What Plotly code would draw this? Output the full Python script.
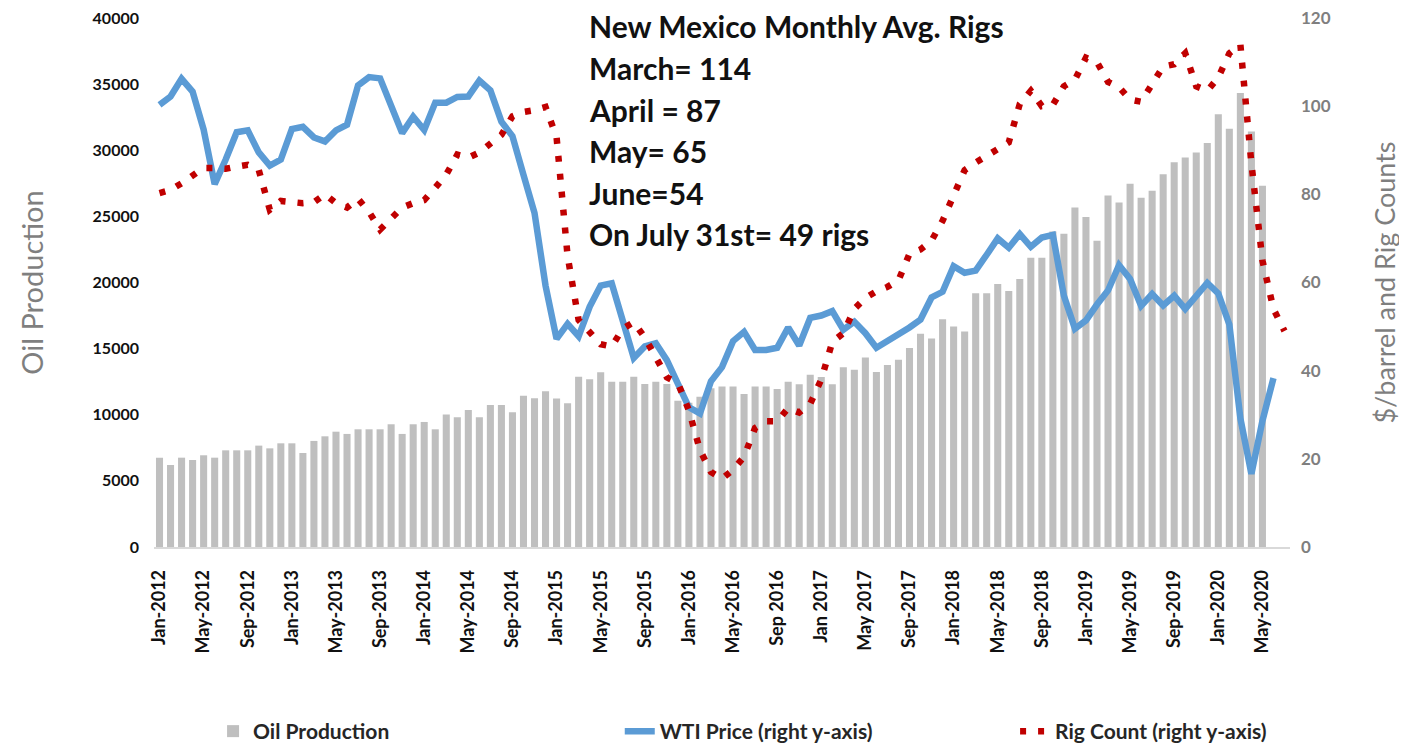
import plotly.graph_objects as go

# months Jan-2012 .. Jul-2020
years = range(2012, 2021)
months = [f"{y}-{m:02d}" for y in years for m in range(1, 13)][:103]

tick_labels = ["Jan-2012", "May-2012", "Sep-2012", "Jan-2013", "May-2013", "Sep-2013",
               "Jan-2014", "May-2014", "Sep-2014", "Jan-2015", "May-2015", "Sep-2015",
               "Jan-2016", "May-2016", "Sep 2016", "Jan 2017", "May 2017", "Sep-2017",
               "Jan-2018", "May-2018", "Sep-2018", "Jan-2019", "May-2019", "Sep-2019",
               "Jan-2020", "May-2020"]

# NM oil production (thousand bbl), Jan-2012 .. May-2020
oil_production = [
    6755, 6200, 6755, 6580, 6935, 6755, 7310, 7310, 7310, 7665, 7460, 7840,
    7840, 7110, 8020, 8370, 8720, 8550, 8900, 8900, 8900, 9280, 8550, 9280,
    9455, 8900, 10010, 9810, 10360, 9810, 10740, 10740, 10190, 11430, 11250, 11780,
    11220, 10870, 12870, 12680, 13220, 12500, 12500, 12870, 12320, 12500, 12320, 11050,
    10900, 11370, 12000, 12130, 12130, 11570, 12130, 12130, 11950, 12500, 12310, 13030,
    12860, 12310, 13590, 13410, 14320, 13240, 13770, 14150, 15040, 16120, 15760, 17220,
    16665, 16290, 19190, 19190, 19890, 19360, 20270, 21880, 21880, 23850, 23680, 25670,
    24960, 23150, 26580, 26050, 27460, 26400, 26930, 28190, 29100, 29450, 29830, 30540,
    32730, 31620, 34320, 31420, 27310,
]

# WTI monthly average price ($/bbl), Jan-2012 .. Jun-2020
wti_price = [
    100.3, 102.2, 106.2, 103.3, 94.7, 82.3, 87.9, 94.1, 94.5, 89.5, 86.5, 87.9,
    94.8, 95.3, 92.9, 92.0, 94.5, 95.8, 104.7, 106.6, 106.3, 100.5, 93.9, 97.6,
    94.6, 100.8, 100.8, 102.1, 102.2, 105.8, 103.6, 96.5, 93.2, 84.4, 75.8, 59.3,
    47.2, 50.6, 47.8, 54.5, 59.3, 59.8, 50.9, 42.9, 45.5, 46.2, 42.4, 37.2,
    31.7, 30.3, 37.6, 40.8, 46.7, 48.8, 44.7, 44.7, 45.2, 49.8, 45.7, 52.0,
    52.5, 53.5, 49.3, 51.1, 48.5, 45.2, 46.6, 48.0, 49.8, 51.6, 56.6, 57.9,
    63.7, 62.2, 62.7, 66.3, 70.0, 67.9, 71.0, 68.1, 70.2, 70.8, 57.0, 49.5,
    51.4, 55.0, 58.2, 63.9, 60.8, 54.7, 57.4, 54.8, 57.0, 54.0, 57.0, 59.9,
    57.5, 50.5, 29.2, 16.6, 28.6, 38.3,
]

# NM monthly avg rig count, Jan-2012 .. Jul-2020
rig_count = [
    80.3, 81, 82.5, 84.3, 86, 86, 85.8, 86.3, 86.7, 85.5, 76.5, 78.5,
    78.3, 78, 78.2, 80, 78, 77, 79, 76, 72, 74.5, 77, 78,
    78.7, 81.5, 84.5, 89, 88.3, 89.5, 91.5, 93.5, 97.7, 98.7, 99.1, 99.8,
    93, 66, 51.5, 48.5, 46, 45.5, 49.5, 51, 47.5, 43, 38.5, 37.2,
    31, 22, 17, 15.5, 17.5, 20.5, 27, 28.5, 28.5, 31.5, 30.5, 32.5,
    38, 46.5, 48.5, 54, 56.5, 58, 59, 60.5, 66.5, 67.5, 69.5, 74,
    80, 85.5, 87.2, 88.7, 90.3, 91.8, 100.5, 103.5, 100, 100.3, 104.5, 106,
    111, 110, 105.5, 104.3, 101.5, 101, 105, 109, 109.5, 112, 104.5, 103.5,
    106.5, 112, 114, 87, 65, 54, 49,
]

note_lines = ["New Mexico Monthly Avg. Rigs", "March= 114", "April = 87",
              "May= 65", "June=54", "On July 31st= 49 rigs"]

FONT = "Lato"
legend_font = dict(family=FONT, size=21, color="#262626", weight="bold")

fig = go.Figure()
fig.add_trace(go.Bar(x=months[:len(oil_production)], y=oil_production, name="Oil Production",
                     marker=dict(color="#bfbfbf", line=dict(width=0)), legend="legend"))
fig.add_trace(go.Scatter(x=months[:len(wti_price)], y=wti_price, name="WTI Price (right y-axis)",
                         mode="lines", yaxis="y2", legend="legend2",
                         line=dict(color="#5b9bd5", width=6.5)))
fig.add_trace(go.Scatter(x=months, y=rig_count, name="Rig Count (right y-axis)",
                         mode="lines", yaxis="y2", legend="legend3",
                         line=dict(color="#c00000", width=6.5, dash="6px,12px")))

# text box
for i, line in enumerate(note_lines):
    fig.add_annotation(text=line, xref="paper", yref="paper", x=0.381, y=0.984 - i * 0.0785,
                       xanchor="left", yanchor="middle", showarrow=False,
                       font=dict(family=FONT, size=30, color="#111111", weight="bold"))

# page body adds an 8px offset, so the figure is 8px smaller than the window
fig.update_layout(
    width=1399, height=739,
    margin=dict(l=145.5, r=116.5, t=10, b=200),
    paper_bgcolor="white", plot_bgcolor="white",
    bargap=0.36,
    showlegend=True,
    legend=dict(x=0.052, xanchor="left", yref="container", y=0.021, yanchor="middle", font=legend_font),
    legend2=dict(x=0.410, xanchor="left", yref="container", y=0.021, yanchor="middle", font=legend_font),
    legend3=dict(x=0.758, xanchor="left", yref="container", y=0.021, yanchor="middle", font=legend_font),
    xaxis=dict(type="category", categoryorder="array", categoryarray=months,
               range=[-0.5, len(months) - 0.5], automargin=False,
               tickmode="array", tickvals=months[::4], ticktext=tick_labels,
               tickangle=-90, showgrid=False, showline=True, linecolor="#d9d9d9", linewidth=1.5,
               ticks="", ticklabelstandoff=14, ticklabeloverflow="allow",
               tickfont=dict(family=FONT, size=18, color="#111111", weight="bold")),
    yaxis=dict(range=[0, 40000], dtick=5000, tickformat="d", showgrid=False, zeroline=False,
               automargin=False, ticklabeloverflow="allow",
               tickfont=dict(family=FONT, size=16, color="#111111", weight="bold"),
               ticklabelstandoff=14,
               title=dict(text="Oil Production", standoff=40,
                          font=dict(family=FONT, size=29, color="#7f7f7f"))),
    yaxis2=dict(range=[0, 120], dtick=20, overlaying="y", side="right", showgrid=False,
                zeroline=False, automargin=False, ticklabeloverflow="allow",
                tickfont=dict(family=FONT, size=17, color="#7f7f7f", weight="bold"),
                ticklabelstandoff=10,
                title=dict(text="$/barrel and Rig Counts", standoff=46,
                           font=dict(family=FONT, size=27, color="#7f7f7f"))),
)

fig.write_html("out.html")
